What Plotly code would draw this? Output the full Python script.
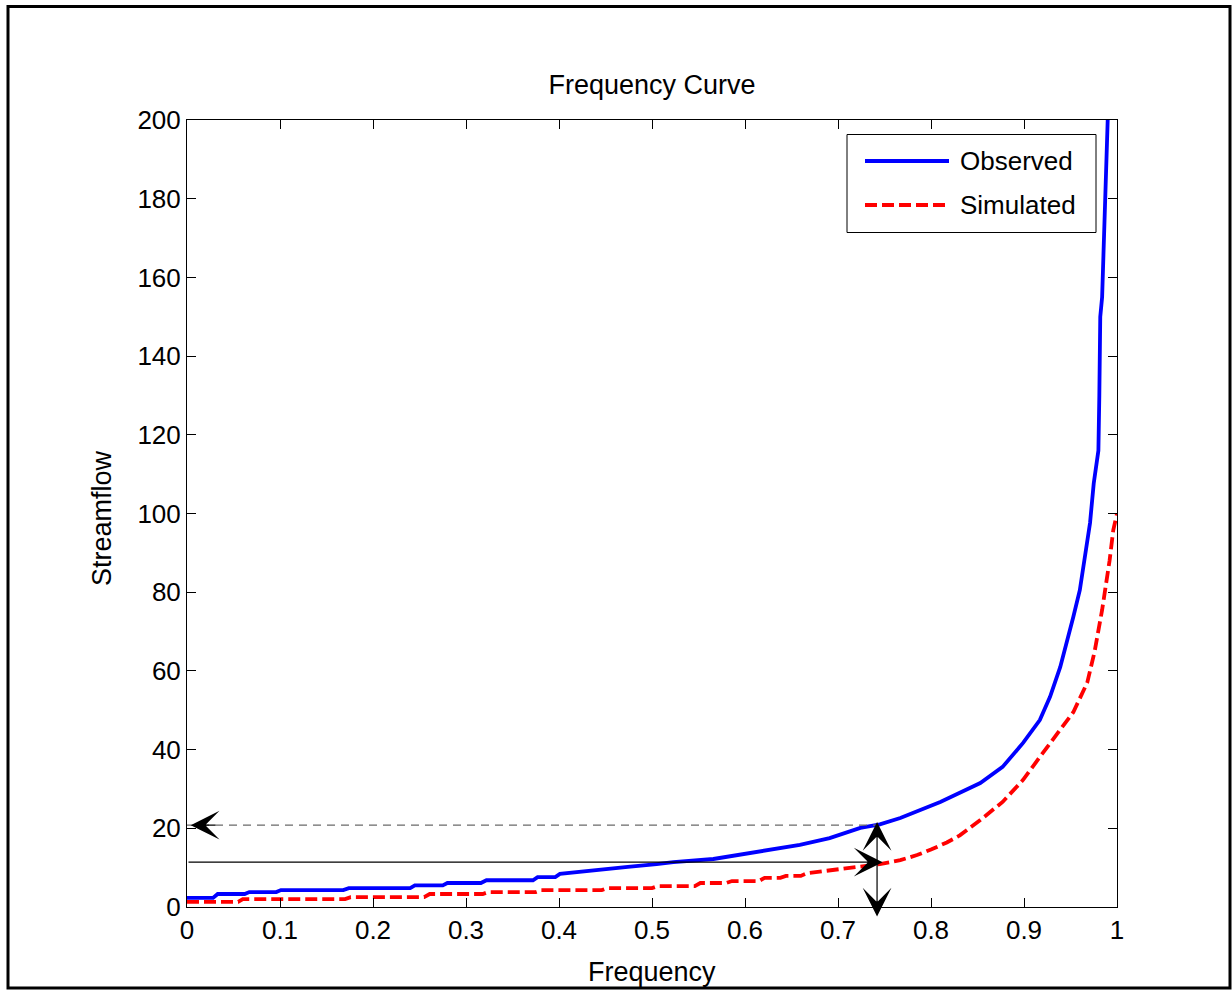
import plotly.graph_objects as go

# ---------------- data ----------------
freq_obs = [0, 0.028, 0.033, 0.062, 0.067, 0.096, 0.101, 0.168, 0.174, 0.24, 0.245,
            0.275, 0.28, 0.316, 0.322, 0.372, 0.377, 0.396, 0.401, 0.42, 0.446, 0.474,
            0.505, 0.523, 0.566, 0.587, 0.62, 0.638, 0.659, 0.691, 0.724, 0.745, 0.767,
            0.81, 0.853, 0.877, 0.899, 0.917, 0.928, 0.939, 0.946, 0.953, 0.96,
            0.966, 0.971, 0.975, 0.98, 0.981, 0.982, 0.984, 0.986, 0.988, 0.99, 0.992]
flow_obs = [2.3, 2.3, 3.3, 3.3, 3.8, 3.8, 4.3, 4.3, 4.8, 4.8, 5.5,
            5.5, 6.1, 6.1, 6.8, 6.8, 7.6, 7.6, 8.4, 8.9, 9.7, 10.2,
            10.9, 11.4, 12.2, 13.0, 14.2, 15.0, 15.8, 17.5, 20.1, 21.0, 22.6,
            26.7, 31.5, 35.6, 41.7, 47.5, 53.4, 61, 67, 73.7, 80.5,
            90.7, 97.6, 107.7, 116, 130, 150, 155, 175, 185, 200, 215]

freq_sim = [0, 0.055, 0.06, 0.17, 0.176, 0.255, 0.261, 0.318, 0.324, 0.375, 0.381,
            0.446, 0.452, 0.5, 0.506, 0.546, 0.552, 0.58, 0.586, 0.615, 0.621, 0.638,
            0.644, 0.66, 0.667, 0.69, 0.72, 0.745, 0.767, 0.785, 0.8, 0.817, 0.831, 0.853,
            0.877, 0.899, 0.917, 0.931, 0.942, 0.953, 0.968, 0.976, 0.984, 0.987,
            0.992, 0.996, 1.0]
flow_sim = [1.3, 1.3, 2.0, 2.0, 2.5, 2.5, 3.3, 3.3, 3.8, 3.8, 4.3,
            4.3, 4.8, 4.8, 5.3, 5.3, 6.1, 6.1, 6.6, 6.6, 7.4, 7.4,
            7.9, 7.9, 8.6, 9.3, 10.0, 10.9, 11.9, 13.2, 14.6, 16.4, 18.2, 22.1,
            26.7, 32.3, 38.1, 42.4, 46, 49.5, 57, 65, 75.5, 80,
            88, 95.8, 100]

x_ticks = [0, 0.1, 0.2, 0.3, 0.4, 0.5, 0.6, 0.7, 0.8, 0.9, 1]
x_tick_text = ["0", "0.1", "0.2", "0.3", "0.4", "0.5", "0.6", "0.7", "0.8", "0.9", "1"]
y_ticks = [0, 20, 40, 60, 80, 100, 120, 140, 160, 180, 200]
y_tick_text = [str(v) for v in y_ticks]

ref_freq = 0.742      # frequency of the vertical double arrow
obs_at_ref = 20.8     # observed flow at ref_freq (dashed line)
sim_at_ref = 11.4     # simulated flow at ref_freq (solid line)

# ---------------- layout geometry ----------------
W, H = 1232, 992
L, R, T, B = 187, 1117, 120, 907


def px(x):
    return (x - L) / (R - L)


def py(y):
    return (B - y) / (B - T)


FONT = "Liberation Sans, Arial, Helvetica, sans-serif"
LW = 3.8
SIM_DASH = "12px,5px"

fig = go.Figure()
fig.add_trace(go.Scatter(x=freq_obs, y=flow_obs, mode="lines", name="Observed",
                         line=dict(color="#0000ff", width=LW), showlegend=False))
fig.add_trace(go.Scatter(x=freq_sim, y=flow_sim, mode="lines", name="Simulated",
                         line=dict(color="#ff0000", width=LW, dash=SIM_DASH),
                         showlegend=False))

axis_common = dict(ticks="inside", ticklen=9, tickwidth=1, tickcolor="black",
                   showline=True, linecolor="black", linewidth=1, mirror="ticks",
                   showgrid=False, zeroline=False,
                   tickfont=dict(family=FONT, size=26, color="black"))

fig.update_layout(
    width=W, height=H,
    margin=dict(l=L, r=W - R, t=T, b=H - B, autoexpand=False),
    paper_bgcolor="white", plot_bgcolor="white",
    font=dict(family=FONT, size=26, color="black"),
    title=dict(text="Frequency Curve", x=0.5, xref="paper", xanchor="center",
               y=1 - 85 / H, yref="container", yanchor="middle",
               font=dict(family=FONT, size=27, color="black")),
    xaxis=dict(range=[0, 1], tickvals=x_ticks, ticktext=x_tick_text, **axis_common),
    yaxis=dict(range=[0, 200], tickvals=y_ticks, ticktext=y_tick_text, **axis_common),
)

shapes = [
    # outer frame
    dict(type="rect", xref="paper", yref="paper", x0=px(8), x1=px(1230),
         y0=py(988), y1=py(6.5), line=dict(color="black", width=3)),
    # dashed reference line (observed)
    dict(type="line", xref="x", yref="y", x0=0, x1=ref_freq, y0=obs_at_ref, y1=obs_at_ref,
         line=dict(color="#6a6a6a", width=1.2, dash="8px,6px")),
    # legend box
    dict(type="rect", xref="paper", yref="paper", x0=px(847), x1=px(1096),
         y0=py(232.5), y1=py(134.5), line=dict(color="black", width=1),
         fillcolor="white", layer="above"),
    dict(type="line", xref="paper", yref="paper", x0=px(865), x1=px(949),
         y0=py(161), y1=py(161), line=dict(color="#0000ff", width=LW)),
    dict(type="line", xref="paper", yref="paper", x0=px(865), x1=px(949),
         y0=py(205), y1=py(205), line=dict(color="#ff0000", width=LW, dash=SIM_DASH)),
]
fig.update_layout(shapes=shapes)

arrow = dict(text="", showarrow=True, arrowhead=3, arrowsize=4.0, arrowwidth=1.2,
             arrowcolor="black", standoff=0, startstandoff=0)
annotations = [
    dict(text="Frequency", xref="paper", yref="paper", x=0.5, y=py(972),
         xanchor="center", yanchor="middle", showarrow=False,
         font=dict(family=FONT, size=27, color="black")),
    dict(text="Streamflow", xref="paper", yref="paper", x=px(102), y=py(518),
         xanchor="center", yanchor="middle", textangle=-90, showarrow=False,
         font=dict(family=FONT, size=27, color="black")),
    dict(text="Observed", xref="paper", yref="paper", x=px(958), y=py(161),
         xanchor="left", yanchor="middle", showarrow=False,
         font=dict(family=FONT, size=26, color="black")),
    dict(text="Simulated", xref="paper", yref="paper", x=px(958), y=py(205),
         xanchor="left", yanchor="middle", showarrow=False,
         font=dict(family=FONT, size=26, color="black")),
    # left-pointing arrowhead at the y axis
    dict(x=0.004, y=obs_at_ref, xref="x", yref="y", ax=26, ay=0, **arrow),
    # solid horizontal arrow from axis to the simulated curve
    dict(x=ref_freq + 0.006, y=sim_at_ref, xref="x", yref="y", ax=0, ay=sim_at_ref,
         axref="x", ayref="y", **arrow),
    # vertical double-headed arrow
    dict(x=ref_freq, y=21.6, xref="x", yref="y", ax=ref_freq, ay=-2.8,
         axref="x", ayref="y", arrowside="end+start", startarrowhead=3,
         startarrowsize=4.0, **arrow),
]
fig.update_layout(annotations=annotations)

fig.write_html("out.html", config={"displayModeBar": False},
               post_script="document.body.style.margin='0px';")
